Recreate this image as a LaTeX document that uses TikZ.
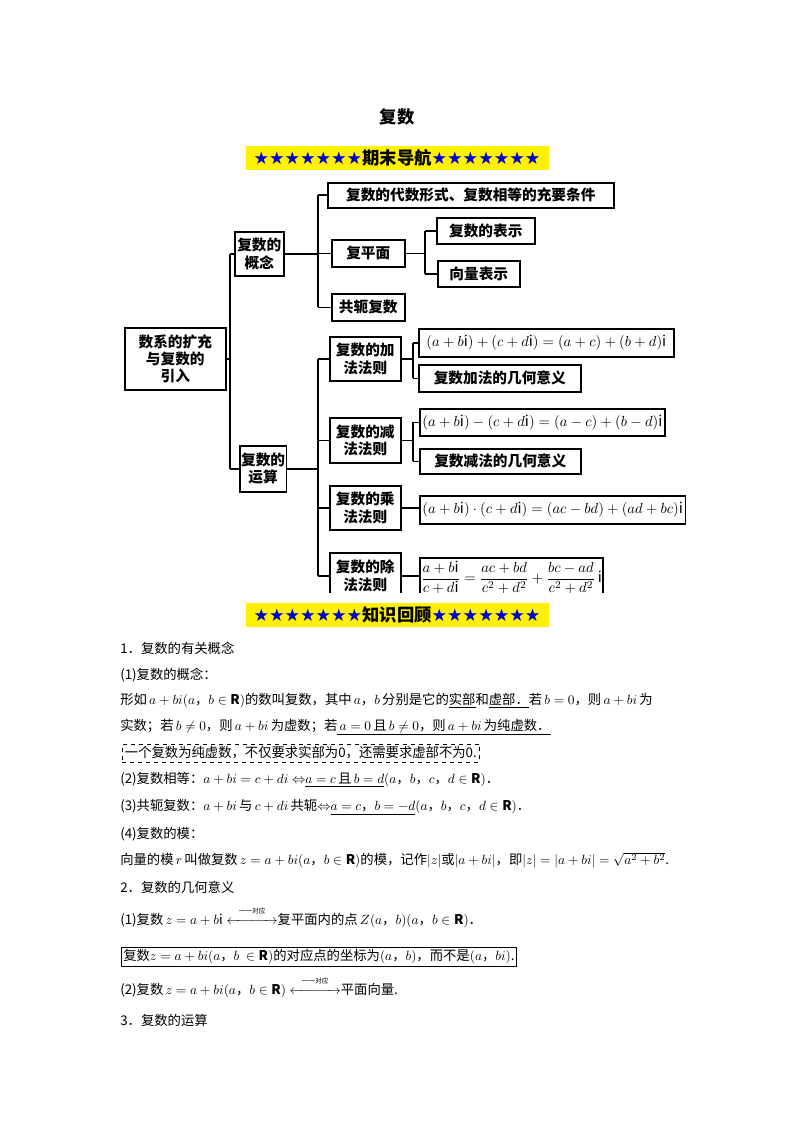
\documentclass[tikz,border=0pt]{standalone}
\usepackage{amsmath,amssymb,mathtools}
\usepackage{fontspec}
\setmainfont{Noto Sans CJK SC}
\newfontfamily\djv{DejaVu Sans}
\usetikzlibrary{positioning}
\newcommand{\stars}{{\djv\color{blue!80!black}★★★★★★★}}
\newcommand{\corr}{\mathrel{\overset{\raisebox{-1pt}{\fontsize{5}{5}\selectfont 一一对应}}{\xleftrightarrow{\hspace{3.2em}}}}}
\begin{document}
\begin{tikzpicture}[x=0.75pt,y=-0.75pt,
  bx/.style={draw,line width=1.2pt,inner sep=2pt,font=\fontsize{11}{13}\selectfont\bfseries,align=center,anchor=north west},
  ln/.style={line width=1.2pt},
  tx/.style={anchor=west,inner sep=0pt,font=\fontsize{10}{12}\selectfont}]
\useasboundingbox (0,0) rectangle (794,1123);
\node (title) at (397,117) {\fontsize{13}{15}\selectfont\bfseries 复数};
\node[fill=yellow,inner sep=1pt,minimum width=303*0.75pt,minimum height=24*0.75pt] (b1) at (397,158) {\fontsize{13}{15}\selectfont\stars\textbf{期末导航}\stars};
\begin{scope}
\clip (115,178) rectangle (690,592);
\node[bx,minimum width=101*0.75pt,minimum height=62*0.75pt] (root) at (124,327) {数系的扩充\\与复数的\\引入};
\node[bx,minimum width=49*0.75pt,minimum height=44*0.75pt,inner sep=1pt] (gn) at (234,231) {复数的\\概念};
\node[bx,minimum width=286*0.75pt,minimum height=25*0.75pt] (ds) at (327,182) {复数的代数形式、复数相等的充要条件};
\node[bx,minimum width=73*0.75pt,minimum height=27*0.75pt] (fpm) at (331,239) {复平面};
\node[bx,minimum width=98*0.75pt,minimum height=26*0.75pt] (bs) at (436,217) {复数的表示};
\node[bx,minimum width=82*0.75pt,minimum height=26*0.75pt] (xl) at (437,260) {向量表示};
\node[bx,minimum width=73*0.75pt,minimum height=27*0.75pt] (gy) at (331,293) {共轭复数};
\node[bx,minimum width=45*0.75pt,minimum height=46*0.75pt,inner sep=1pt] (ys) at (239,445) {复数的\\运算};
\node[bx,minimum width=71*0.75pt,minimum height=44*0.75pt,inner sep=1pt] (jia) at (329,336) {复数的加\\法法则};
\node[bx,minimum width=255*0.75pt,minimum height=28*0.75pt,font=\fontsize{11}{13}\selectfont] (jia1) at (418,328) {$(a+b\mathrm{i})+(c+d\mathrm{i})=(a+c)+(b+d)\mathrm{i}$};
\node[bx,minimum width=162*0.75pt,minimum height=27*0.75pt] (jia2) at (418,364) {复数加法的几何意义};
\node[bx,minimum width=71*0.75pt,minimum height=45*0.75pt,inner sep=1pt] (jian) at (329,417) {复数的减\\法法则};
\node[bx,minimum width=189*0.75pt,minimum height=27*0.75pt,font=\fontsize{11}{13}\selectfont] (jian1) at (419,408) {$(a+b\mathrm{i})-(c+d\mathrm{i})=(a-c)+(b-d)\mathrm{i}$};
\node[bx,minimum width=161*0.75pt,minimum height=25*0.75pt] (jian2) at (419,448) {复数减法的几何意义};
\node[bx,minimum width=71*0.75pt,minimum height=44*0.75pt,inner sep=1pt] (cheng) at (329,485) {复数的乘\\法法则};
\node[bx,minimum width=250*0.75pt,minimum height=28*0.75pt,font=\fontsize{11}{13}\selectfont] (cheng1) at (419,495) {$(a+b\mathrm{i})\cdot(c+d\mathrm{i})=(ac-bd)+(ad+bc)\mathrm{i}$};
\node[bx,minimum width=71*0.75pt,minimum height=46*0.75pt,inner sep=1pt] (chu) at (329,552) {复数的除\\法法则};
\node[bx,minimum width=154*0.75pt,minimum height=40*0.75pt,font=\fontsize{11}{13}\selectfont,inner sep=1pt] (chu1) at (419,557) {$\dfrac{a+b\mathrm{i}}{c+d\mathrm{i}}=\dfrac{ac+bd}{c^2+d^2}+\dfrac{bc-ad}{c^2+d^2}\,\mathrm{i}$};
% connectors
\coordinate (v1) at (230,0);
\draw[ln] (root.east) -- (root.east -| v1);
\draw[ln] (gn.west -| v1) -- (ys.west -| v1);
\draw[ln] (gn.west -| v1) -- (gn.west);
\draw[ln] (ys.west -| v1) -- (ys.west);
\coordinate (v2) at (318,0);
\draw[ln] (gn.east) -- (gn.east -| v2);
\draw[ln] (fpm.west -| v2) -- (fpm.west);
\draw[ln] (ds.west -| v2) -- (gy.west -| v2);
\draw[ln] (ds.west -| v2) -- (ds.west);
\draw[ln] (gy.west -| v2) -- (gy.west);
\coordinate (v3) at (425,0);
\draw[ln] (fpm.east) -- (fpm.east -| v3);
\draw[ln] (bs.west -| v3) -- (xl.west -| v3);
\draw[ln] (bs.west -| v3) -- (bs.west);
\draw[ln] (xl.west -| v3) -- (xl.west);
\draw[ln] (ys.east) -- (ys.east -| v2);
\draw[ln] (jia.west -| v2) -- (chu.west -| v2);
\foreach \n in {jia,jian,cheng,chu} \draw[ln] (\n.west -| v2) -- (\n.west);
\coordinate (v4) at (413,0);
\draw[ln] (jia.east) -- (jia.east -| v4);
\draw[ln] (jia1.west -| v4) -- (jia2.west -| v4);
\draw[ln] (jia1.west -| v4) -- (jia1.west);
\draw[ln] (jia2.west -| v4) -- (jia2.west);
\draw[ln] (jian.east) -- (jian.east -| v4);
\draw[ln] (jian1.west -| v4) -- (jian2.west -| v4);
\draw[ln] (jian1.west -| v4) -- (jian1.west);
\draw[ln] (jian2.west -| v4) -- (jian2.west);
\draw[ln] (cheng.east) -- (cheng1.west |- cheng.east);
\draw[ln] (chu.east) -- (chu1.west |- chu.east);
\end{scope}
\node[fill=yellow,inner sep=1pt,minimum width=303*0.75pt,minimum height=24*0.75pt] (b2) at (397,615) {\fontsize{13}{15}\selectfont\stars\textbf{知识回顾}\stars};
% text
\node[tx] (t1) at (120,648) {1．复数的有关概念};
\node[tx] (t2) at (120,675) {(1)复数的概念：};
\node[tx] (t3) at (120,701) {形如$\,a+bi(a$，$b\in\mathbf{R})$的数叫复数，其中$\,a$，$b\,$分别是它的\underline{实部}和\underline{虚部．}若$\,b=0$，则$\,a+bi\,$为};
\node[tx] (t4) at (120,727) {实数；若$\,b\neq0$，则$\,a+bi\,$为虚数；若\underline{$\,a=0\,$且$\,b\neq0$，则$\,a+bi\,$为纯虚数．}};
\node[tx,draw,dashed,inner sep=2pt] (t5) at (122,753) {一个复数为纯虚数，不仅要求实部为0，还需要求虚部不为0.};
\node[tx] (t6) at (120,780) {(2)复数相等：$a+bi=c+di\Leftrightarrow$\underline{$a=c\,$且$\,b=d$}$(a$，$b$，$c$，$d\in\mathbf{R})$．};
\node[tx] (t7) at (120,807) {(3)共轭复数：$a+bi\,$与$\,c+di\,$共轭$\Leftrightarrow$\underline{$a=c$，$b=-d$}$(a$，$b$，$c$，$d\in\mathbf{R})$．};
\node[tx] (t8) at (120,834) {(4)复数的模：};
\node[tx] (t9) at (120,860) {向量的模$\,r\,$叫做复数$\,z=a+bi(a$，$b\in\mathbf{R})$的模，记作$|z|$或$|a+bi|$，即$|z|=|a+bi|=\sqrt{a^2+b^2}$.};
\node[tx] (t10) at (120,887) {2．复数的几何意义};
\node[tx] (t11) at (120,917) {(1)复数$\,z=a+b\mathrm{i}\corr$复平面内的点$\,Z(a$，$b)(a$，$b\in\mathbf{R})$．};
\node[tx,draw,inner sep=1.5pt] (t12) at (121,957) {复数$z=a+bi(a$，$b\ \in\mathbf{R})$的对应点的坐标为$(a$，$b)$，而不是$(a$，$bi)$.};
\node[tx] (t13) at (120,987) {(2)复数$\,z=a+bi(a$，$b\in\mathbf{R})\corr$平面向量.};
\node[tx] (t14) at (120,1020) {3．复数的运算};
\end{tikzpicture}
\end{document}
